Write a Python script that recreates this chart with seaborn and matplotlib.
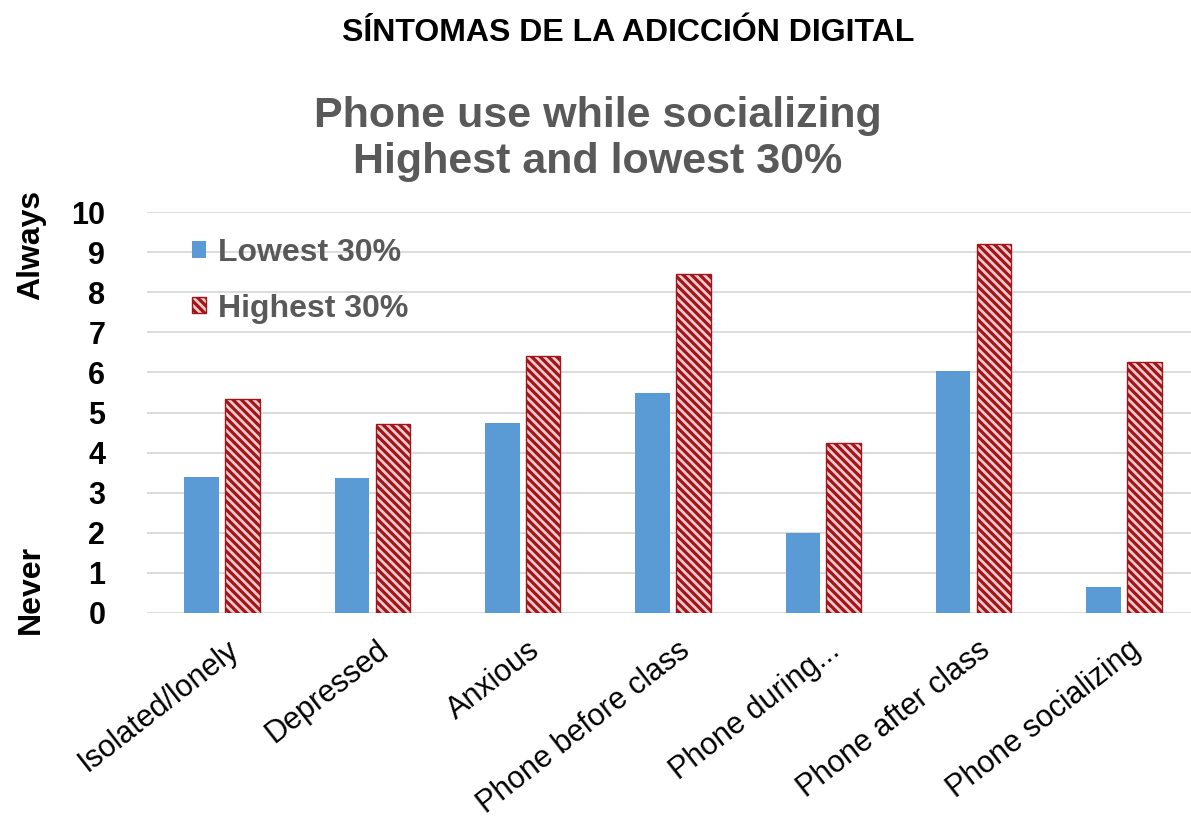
import matplotlib
matplotlib.use("Agg")
import matplotlib.pyplot as plt
import seaborn as sns
import pandas as pd
from matplotlib.patches import Patch
from matplotlib import transforms

categories = ["Isolated/lonely", "Depressed", "Anxious", "Phone before class",
              "Phone during...", "Phone after class", "Phone socializing"]
lowest_30 = [3.40, 3.36, 4.75, 5.49, 1.99, 6.03, 0.64]
highest_30 = [5.33, 4.71, 6.41, 8.45, 4.23, 9.19, 6.25]
series_names = ["Lowest 30%", "Highest 30%"]
y_ticks = [0, 1, 2, 3, 4, 5, 6, 7, 8, 9, 10]

BLUE = "#5B9BD5"
RED_DARK = "#9E161C"
RED_LIGHT = "#F6CACA"
GRAY = "#595959"

sns.set_theme(style="white")
plt.rcParams["font.family"] = ["Liberation Sans", "DejaVu Sans"]
plt.rcParams["hatch.linewidth"] = 2.3

df = pd.DataFrame({
    "category": categories * 2,
    "value": lowest_30 + highest_30,
    "group": [series_names[0]] * len(categories) + [series_names[1]] * len(categories),
})

fig = plt.figure(figsize=(11.91, 8.25), dpi=100)
ax = fig.add_axes([147 / 1191, 1 - 613 / 825, 1052 / 1191, 401 / 825])

sns.barplot(data=df, x="category", y="value", hue="group", hue_order=series_names,
            palette=[BLUE, RED_DARK], saturation=1, width=0.545, gap=0.156,
            legend=False, ax=ax, errorbar=None)

HATCH = "\\\\\\\\"
for p in ax.containers[0]:
    p.set_facecolor(BLUE)
    p.set_edgecolor("none")
for p in ax.containers[1]:
    p.set_facecolor(RED_LIGHT)
    p.set_edgecolor(RED_DARK)
    p.set_hatch(HATCH)
    p.set_linewidth(1.0)

ax.set_xlim(-0.5, 6.5)
ax.set_ylim(0, 10)
ax.set_yticks(y_ticks)
ax.set_yticklabels([str(t) for t in y_ticks], fontsize=22, fontweight="bold", color="black")
ax.tick_params(axis="y", length=0, pad=30)
ax.tick_params(axis="x", length=0, pad=16)
ax.grid(axis="y", color="#D9D9D9", linewidth=1.3)
ax.set_axisbelow(True)
for s in ax.spines.values():
    s.set_visible(False)
ax.set_xlabel("")
ax.set_ylabel("")

ax.set_xticks(range(len(categories)))
ax.set_xticklabels(categories, rotation=38, ha="right", rotation_mode="anchor",
                   fontsize=22, color="black")
offset = transforms.ScaledTranslation(4 / 100, 0, fig.dpi_scale_trans)
for lab in ax.get_xticklabels():
    lab.set_transform(lab.get_transform() + offset)

handles = [Patch(facecolor=BLUE, edgecolor="none"),
           Patch(facecolor=RED_LIGHT, edgecolor=RED_DARK, hatch=HATCH)]
leg = ax.legend(handles, series_names, loc="upper left", bbox_to_anchor=(0.043, 0.935),
                frameon=False, handlelength=0.42, handleheight=0.42,
                handletextpad=0.4, labelspacing=0.8, borderpad=0, borderaxespad=0,
                prop={"weight": "bold", "size": 23})
for t in leg.get_texts():
    t.set_color(GRAY)

fig.text(628 / 1191, 1 - 33 / 825, "SÍNTOMAS DE LA ADICCIÓN DIGITAL", ha="center", va="center",
         fontsize=23, fontweight="bold", color="black")
fig.text(598 / 1191, 1 - 139 / 825, "Phone use while socializing\nHighest and lowest 30%",
         ha="center", va="center", fontsize=31, fontweight="bold", color=GRAY,
         linespacing=1.2)
fig.text(31 / 1191, 1 - 245 / 825, "Always", rotation=90, ha="center", va="center",
         fontsize=23, fontweight="bold", color="black")
fig.text(31 / 1191, 1 - 590 / 825, "Never", rotation=90, ha="center", va="center",
         fontsize=23, fontweight="bold", color="black")

fig.savefig("out.png", dpi=100)
